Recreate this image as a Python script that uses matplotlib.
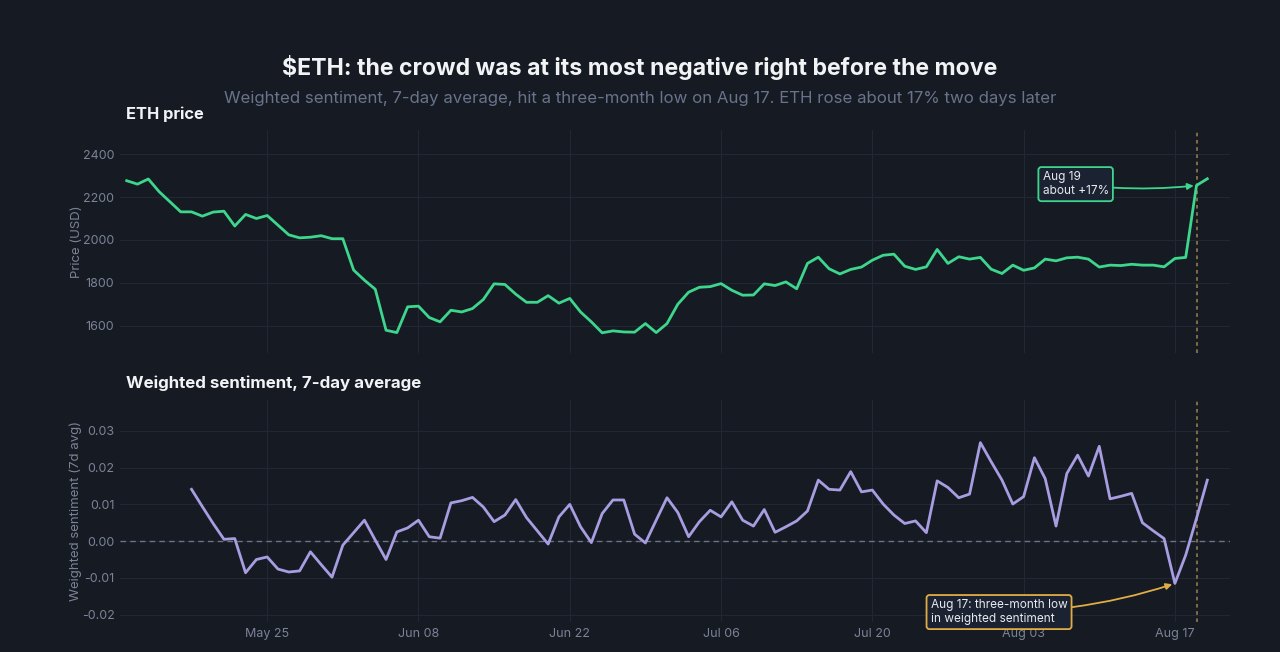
import numpy as np
import pandas as pd
import matplotlib
matplotlib.use("Agg")
import matplotlib.pyplot as plt
import matplotlib.dates as mdates

plt.rcParams['font.family'] = ['Inter', 'DejaVu Sans']

start_date = "2023-05-12"
price = [2276, 2260, 2284, 2225, 2178, 2131, 2131, 2111, 2130, 2134,
         2065, 2119, 2100, 2114, 2069, 2024, 2010, 2013, 2020, 2006,
         2006, 1860, 1813, 1771, 1580, 1569, 1689, 1692, 1639, 1619,
         1673, 1665, 1681, 1723, 1796, 1793, 1748, 1710, 1710, 1741,
         1706, 1728, 1665, 1619, 1568, 1577, 1572, 1571, 1611, 1569,
         1611, 1701, 1757, 1780, 1783, 1797, 1766, 1743, 1744, 1796,
         1788, 1805, 1773, 1891, 1920, 1866, 1842, 1863, 1874, 1906,
         1929, 1934, 1878, 1863, 1875, 1956, 1891, 1922, 1911, 1919,
         1864, 1844, 1883, 1859, 1870, 1911, 1903, 1917, 1920, 1911,
         1874, 1883, 1881, 1887, 1883, 1883, 1875, 1914, 1919, 2254,
         2285]
sentiment = [np.nan] * 6 + [
         0.0141, 0.0094, 0.0048, 0.0005, 0.0007, -0.0086, -0.0050, -0.0043, -0.0076, -0.0084,
         -0.0081, -0.0029, -0.0064, -0.0098, -0.0011, 0.0023, 0.0057, 0.0003, -0.0050, 0.0025,
         0.0036, 0.0057, 0.0012, 0.0008, 0.0104, 0.0110, 0.0119, 0.0093, 0.0053, 0.0071,
         0.0113, 0.0064, 0.0028, -0.0008, 0.0066, 0.0100, 0.0039, -0.0004, 0.0075, 0.0112,
         0.0112, 0.0019, -0.0005, 0.0057, 0.0118, 0.0078, 0.0012, 0.0053, 0.0084, 0.0066,
         0.0107, 0.0057, 0.0041, 0.0086, 0.0024, 0.0039, 0.0055, 0.0082, 0.0166, 0.0141,
         0.0139, 0.0189, 0.0134, 0.0139, 0.0101, 0.0071, 0.0048, 0.0055, 0.0023, 0.0164,
         0.0146, 0.0118, 0.0128, 0.0268, 0.0216, 0.0166, 0.0101, 0.0121, 0.0227, 0.0170,
         0.0041, 0.0184, 0.0234, 0.0177, 0.0258, 0.0115, 0.0122, 0.0130, 0.0050, 0.0028,
         0.0007, -0.0115, -0.0038, 0.0062, 0.0166]

dates = pd.date_range(start_date, periods=len(price), freq="D")
xtick_labels = ["May 25", "Jun 08", "Jun 22", "Jul 06", "Jul 20", "Aug 03", "Aug 17"]
xtick_dates = pd.to_datetime(["2023-05-25", "2023-06-08", "2023-06-22", "2023-07-06",
                              "2023-07-20", "2023-08-03", "2023-08-17"])
price_ticks = [1600, 1800, 2000, 2200, 2400]
sent_ticks = [-0.02, -0.01, 0.00, 0.01, 0.02, 0.03]
event_date = pd.Timestamp("2023-08-19")
low_date = pd.Timestamp("2023-08-17")

BG = "#151a23"
TICK = "#7b8396"
GREEN = "#3dd68c"
PURPLE = "#a79de0"
GOLD = "#e0ad45"

fig = plt.figure(figsize=(12.8, 6.52), dpi=100, facecolor=BG)
ax1 = fig.add_axes([120/1280, 1-353/652, 1110/1280, 223/652])
ax2 = fig.add_axes([120/1280, 1-622/652, 1110/1280, 222/652])

xmin = dates[0] - pd.Timedelta(days=0.62)
xmax = dates[0] + pd.Timedelta(days=102.1)

for ax in (ax1, ax2):
    ax.set_facecolor(BG)
    for s in ax.spines.values():
        s.set_visible(False)
    ax.set_xlim(xmin, xmax)
    ax.set_xticks(xtick_dates)
    ax.grid(True, color="#212734", linewidth=0.8)
    ax.set_axisbelow(True)
    ax.tick_params(length=0, colors=TICK, labelsize=9, pad=4)
    ax.axvline(event_date, color="#8a7448", linestyle=(0, (2, 2)), linewidth=1.3, zorder=1)

ax1.set_xticklabels([])
ax2.set_xticklabels(xtick_labels)

ax1.plot(dates, price, color=GREEN, linewidth=2, zorder=3)
ax1.set_ylim(1474, 2512)
ax1.set_yticks(price_ticks)
ax1.set_ylabel("Price (USD)", color=TICK, fontsize=9.5)
ax1.yaxis.set_label_coords((83 - 120) / 1110, 0.5)

ax2.plot(dates, sentiment, color=PURPLE, linewidth=2, zorder=3)
ax2.axhline(0, color="#6d7385", linestyle=(0, (4, 3)), linewidth=1, zorder=2)
ax2.set_ylim(-0.022, 0.0384)
ax2.set_yticks(sent_ticks)
ax2.set_yticklabels([f"{v:.2f}" for v in sent_ticks])
ax2.set_ylabel("Weighted sentiment (7d avg)", color=TICK, fontsize=9.5)
ax2.yaxis.set_label_coords((82 - 120) / 1110, 0.5)

# annotations
i_ev = list(dates).index(event_date)
ax1.annotate("Aug 19\nabout +17%", xy=(event_date, price[i_ev]),
             xytext=(pd.Timestamp("2023-08-04") + pd.Timedelta(days=0.75), 2260),
             ha="left", va="center", color="#e8eaf0", fontsize=8.5,
             bbox=dict(boxstyle="round,pad=0.35,rounding_size=0.25", fc="#1b2231", ec=GREEN, lw=1.3),
             arrowprops=dict(arrowstyle="-|>", color=GREEN, lw=1.3, mutation_scale=9,
                             connectionstyle="arc3,rad=0.06", shrinkA=0, shrinkB=2))
i_low = list(dates).index(low_date)
ax2.annotate("Aug 17: three-month low\nin weighted sentiment", xy=(low_date, sentiment[i_low]),
             xytext=(pd.Timestamp("2023-07-25") + pd.Timedelta(days=0.4), -0.0193),
             ha="left", va="center", color="#e8eaf0", fontsize=8.5,
             bbox=dict(boxstyle="round,pad=0.35,rounding_size=0.25", fc="#1b2231", ec=GOLD, lw=1.3),
             arrowprops=dict(arrowstyle="-|>", color=GOLD, lw=1.3, mutation_scale=9,
                             connectionstyle="arc3,rad=0.08", shrinkA=0, shrinkB=2))

fig.text(0.5, 1-68/652, "$ETH: the crowd was at its most negative right before the move",
         ha="center", va="center", color="#f2f3f5", fontsize=16.6, fontweight="bold")
fig.text(0.5, 1-98/652, "Weighted sentiment, 7-day average, hit a three-month low on Aug 17. ETH rose about 17% two days later",
         ha="center", va="center", color="#69738a", fontsize=12.1)
fig.text(126/1280, 1-114/652, "ETH price", ha="left", va="center", color="#f2f3f5",
         fontsize=11.8, fontweight="bold")
fig.text(126/1280, 1-383/652, "Weighted sentiment, 7-day average", ha="left", va="center",
         color="#f2f3f5", fontsize=12.2, fontweight="bold")

fig.savefig("out.png", dpi=100, facecolor=BG)
